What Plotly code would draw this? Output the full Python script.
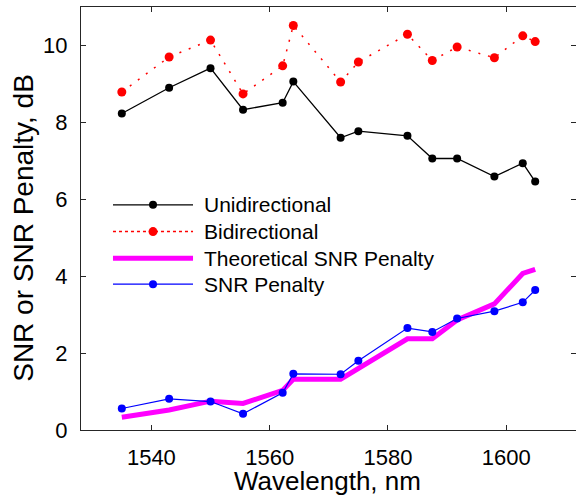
import plotly.graph_objects as go

wavelength = [1535, 1543, 1550, 1555.5, 1562.2, 1564, 1572, 1575, 1583.3, 1587.5, 1591.7, 1598, 1602.8, 1604.9]
unidirectional = [8.23, 8.90, 9.41, 8.33, 8.51, 9.06, 7.60, 7.77, 7.65, 7.06, 7.06, 6.59, 6.94, 6.46]
bidirectional = [8.79, 9.70, 10.14, 8.74, 9.47, 10.52, 9.05, 9.57, 10.29, 9.61, 9.96, 9.68, 10.25, 10.10]
snr_penalty = [0.56, 0.81, 0.74, 0.42, 0.97, 1.46, 1.45, 1.80, 2.65, 2.55, 2.90, 3.09, 3.32, 3.64]
theory_wavelength = [1535, 1543, 1550, 1555.5, 1562.2, 1564, 1572, 1583.3, 1587.5, 1591.7, 1598, 1602.8, 1604.9]
theory_penalty = [0.33, 0.52, 0.75, 0.69, 1.03, 1.32, 1.32, 2.37, 2.37, 2.86, 3.28, 4.07, 4.18]

x_ticks = [1540, 1560, 1580, 1600]
y_ticks = [0, 2, 4, 6, 8, 10]

legend_names = ["Unidirectional", "Bidirectional", "Theoretical SNR Penalty", "SNR Penalty"]
x_title = "Wavelength, nm"
y_title = "SNR or SNR Penalty, dB"

FONT = "Liberation Sans, Arial, sans-serif"

fig = go.Figure()
fig.add_trace(go.Scatter(x=theory_wavelength, y=theory_penalty, mode="lines",
                         line=dict(color="#ff00ff", width=5), showlegend=False))
fig.add_trace(go.Scatter(x=wavelength, y=snr_penalty, mode="lines+markers",
                         line=dict(color="#0000ff", width=1.2),
                         marker=dict(color="#0000ff", size=8), showlegend=False))
fig.add_trace(go.Scatter(x=wavelength, y=bidirectional, mode="lines+markers",
                         line=dict(color="#ff0000", width=1.5, dash="2px,8px"),
                         marker=dict(color="#ff0000", size=9), showlegend=False))
fig.add_trace(go.Scatter(x=wavelength, y=unidirectional, mode="lines+markers",
                         line=dict(color="#000000", width=1.3),
                         marker=dict(color="#000000", size=8), showlegend=False))

# manual legend (long sample lines like the original)
rows_y = [0.5323, 0.4691, 0.4062, 0.3447]
styles = [
    dict(color="#000000", width=1.3, dash="solid", marker=8),
    dict(color="#ff0000", width=1.5, dash="dot", marker=9),
    dict(color="#ff00ff", width=5, dash="solid", marker=0),
    dict(color="#0000ff", width=1.2, dash="solid", marker=8),
]
lx0, lx1, lxm, tx = 0.0646, 0.2263, 0.1455, 0.2444
for name, yy, st in zip(legend_names, rows_y, styles):
    fig.add_shape(type="line", xref="paper", yref="paper", x0=lx0, x1=lx1, y0=yy, y1=yy,
                  line=dict(color=st["color"], width=st["width"], dash=st["dash"]))
    if st["marker"]:
        r = st["marker"] / 2
        fig.add_shape(type="circle", xref="paper", yref="paper",
                      xsizemode="pixel", ysizemode="pixel", xanchor=lxm, yanchor=yy,
                      x0=-r, x1=r, y0=-r, y1=r,
                      fillcolor=st["color"], line=dict(width=0))
    fig.add_annotation(xref="paper", yref="paper", x=tx, y=yy, text=name, showarrow=False,
                       xanchor="left", yanchor="middle",
                       font=dict(family=FONT, size=21, color="#000000"))

# axis titles
fig.add_annotation(xref="paper", yref="paper", x=-0.1152, y=0.478, text=y_title,
                   textangle=-90, showarrow=False, xanchor="center", yanchor="middle",
                   font=dict(family=FONT, size=28, color="#000000"))
fig.add_annotation(xref="paper", yref="paper", x=0.498, y=-0.1206, text=x_title,
                   showarrow=False, xanchor="center", yanchor="middle",
                   font=dict(family=FONT, size=26, color="#000000"))

axis_common = dict(showline=True, linecolor="#262626", linewidth=1, mirror="ticks",
                   ticks="inside", ticklen=5, tickcolor="#262626", showgrid=False,
                   zeroline=False, automargin=False,
                   tickfont=dict(family=FONT, size=22, color="#000000"))

fig.update_xaxes(range=[1528.1, 1611.8], tickvals=x_ticks,
                 ticklabelstandoff=8, **axis_common)
fig.update_yaxes(range=[0, 11], tickvals=y_ticks,
                 ticklabelstandoff=8, **axis_common)

fig.update_layout(width=576, height=495, margin=dict(l=81, r=0, t=7, b=65),
                  plot_bgcolor="white", paper_bgcolor="white",
                  font=dict(family=FONT))

fig.write_html("out.html", config={"displayModeBar": False},
               post_script="document.body.style.margin='0';document.body.style.overflow='hidden';")
